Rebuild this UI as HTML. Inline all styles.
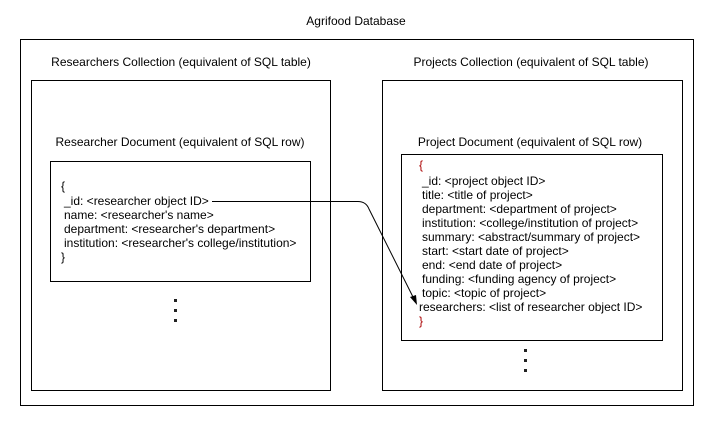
<!DOCTYPE html>
<html><head><style>
body{margin:0;background:#fff;width:715px;height:423px;overflow:hidden}
svg text{font-family:"Liberation Sans",sans-serif;font-size:12px;fill:#000}
</style></head><body>
<svg width="715" height="423" xmlns="http://www.w3.org/2000/svg">
<rect x="20.5" y="39.5" width="673" height="366" fill="none" stroke="#000"/>
<text x="356" y="25" text-anchor="middle">Agrifood Database</text>
<rect x="31.5" y="80.5" width="299" height="310" fill="none" stroke="#000"/>
<text x="181" y="66" text-anchor="middle">Researchers Collection (equivalent of SQL table)</text>
<rect x="382.5" y="80.5" width="300" height="310" fill="none" stroke="#000"/>
<text x="531" y="66" text-anchor="middle">Projects Collection (equivalent of SQL table)</text>
<text x="180" y="146" text-anchor="middle">Researcher Document (equivalent of SQL row)</text>
<rect x="50.5" y="161.5" width="260" height="120" fill="none" stroke="#000"/>
<text x="61" y="190">{</text>
<text x="64" y="205">_id: &lt;researcher object ID&gt;</text>
<text x="64" y="219">name: &lt;researcher's name&gt;</text>
<text x="64" y="233">department: &lt;researcher's department&gt;</text>
<text x="64" y="247">institution: &lt;researcher's college/institution&gt;</text>
<text x="61" y="261">}</text>
<text x="530" y="146" text-anchor="middle">Project Document (equivalent of SQL row)</text>
<rect x="401.5" y="154.5" width="261" height="186" fill="none" stroke="#000"/>
<text x="419" y="169" style="fill:#a00">{</text>
<text x="422" y="185">_id: &lt;project object ID&gt;</text>
<text x="422" y="199">title: &lt;title of project&gt;</text>
<text x="422" y="213">department: &lt;department of project&gt;</text>
<text x="422" y="227">institution: &lt;college/institution of project&gt;</text>
<text x="422" y="241">summary: &lt;abstract/summary of project&gt;</text>
<text x="422" y="255">start: &lt;start date of project&gt;</text>
<text x="422" y="269">end: &lt;end date of project&gt;</text>
<text x="422" y="283">funding: &lt;funding agency of project&gt;</text>
<text x="422" y="297">topic: &lt;topic of project&gt;</text>
<text x="419" y="311">researchers: &lt;list of researcher object ID&gt;</text>
<text x="419" y="325" style="fill:#a00">}</text>
<g fill="#222">
<rect x="174" y="299" width="3" height="3"/><rect x="174" y="309" width="3" height="3"/><rect x="174" y="319" width="3" height="3"/>
<rect x="524" y="349" width="3" height="3"/><rect x="524" y="359" width="3" height="3"/><rect x="524" y="369" width="3" height="3"/>
</g>
<path d="M212 201.5 H358 Q366 201.5 369 209 L413 297" fill="none" stroke="#000"/>
<polygon points="417,305 410,297 416,295" fill="#000"/>
</svg>
</body></html>
